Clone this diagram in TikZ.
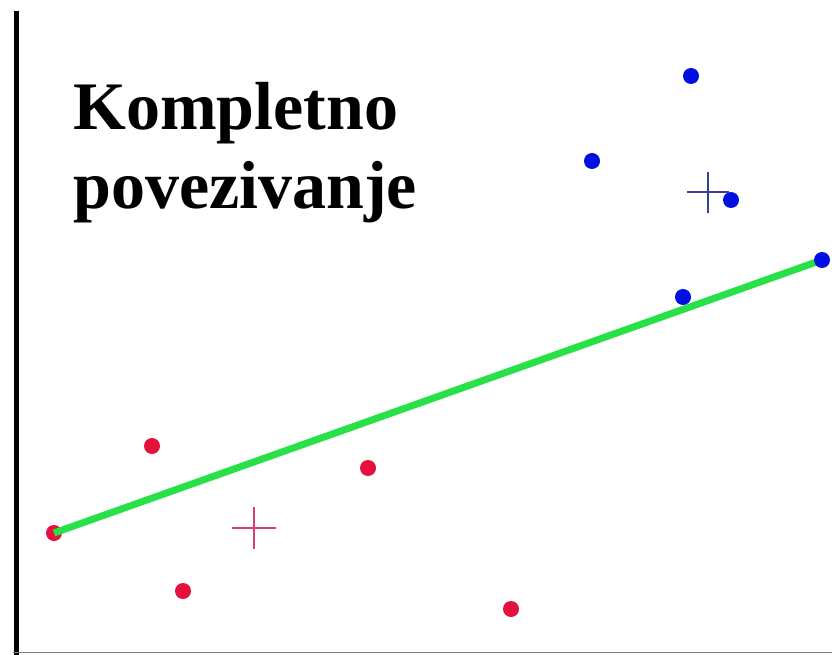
\documentclass[tikz,border=0pt]{standalone}
\usepackage{fontspec}
\setmainfont{Liberation Serif}
\definecolor{dotred}{HTML}{E5103C}
\definecolor{dotblue}{HTML}{0010E0}
\definecolor{linegreen}{HTML}{28E048}
\definecolor{plusred}{HTML}{D8406A}
\definecolor{plusblue}{HTML}{38409A}
\tikzset{
  reddot/.style={circle,fill=dotred,inner sep=0pt,minimum size=16pt},
  bluedot/.style={circle,fill=dotblue,inner sep=0pt,minimum size=16pt},
  title/.style={anchor=base west,inner sep=0pt,font=\fontsize{68}{78}\selectfont\bfseries},
  greenline/.style={draw=linegreen,line width=7pt},
  plusmark/.style={line width=2.5pt}
}
\begin{document}
\begin{tikzpicture}[x=1pt,y=-1pt]
\useasboundingbox[fill=white] (0,0) rectangle (832,655);
% axes
\draw[line width=5pt,black] (16,11) -- (16,655);
\draw[line width=1pt,gray] (13,652.5) -- (832,652.5);
% title
\node[title] (t1) at (73,130) {Kompletno};
\node[title] (t2) at (73,208) {povezivanje};
% red points
\node[reddot] (r1) at (54,533) {};
\node[reddot] (r2) at (152,446) {};
\node[reddot] (r3) at (368,468) {};
\node[reddot] (r4) at (183,591) {};
\node[reddot] (r5) at (511,609) {};
% blue points (nodes defined before line, drawn after)
\coordinate (b5c) at (822,260);
\draw[greenline] (r1.center) -- (b5c);
\node[bluedot] (b1) at (691,76) {};
\node[bluedot] (b2) at (592,161) {};
\node[bluedot] (b3) at (731,200) {};
\node[bluedot] (b4) at (683,297) {};
\node[bluedot] (b5) at (b5c) {};
% centroids
\draw[plusmark,draw=plusred] (232,528) -- (276,528) (254,507) -- (254,549);
\draw[plusmark,draw=plusblue] (687,192) -- (729,192) (708,172) -- (708,213);
\end{tikzpicture}
\end{document}
